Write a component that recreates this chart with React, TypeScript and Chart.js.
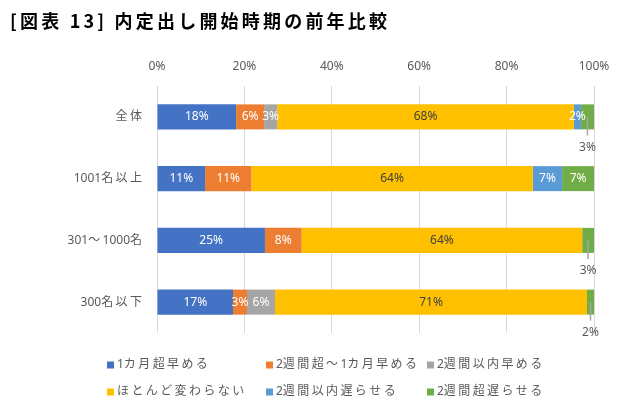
import React, { useEffect, useRef } from "react";
import { Chart, registerables } from "chart.js";

Chart.register(...registerables);

// ---------- data ----------
const title = "[図表 13] 内定出し開始時期の前年比較";
const categories = ["全体", "1001名以上", "301～1000名", "300名以下"];
const seriesNames = [
  "1カ月超早める",
  "2週間超～1カ月早める",
  "2週間以内早める",
  "ほとんど変わらない",
  "2週間以内遅らせる",
  "2週間超遅らせる",
];
const earlierOver1Month = [18.1, 11.0, 24.7, 17.4];
const earlier2WeeksTo1Month = [6.4, 10.6, 8.4, 3.2];
const earlierWithin2Weeks = [3.0, 0, 0, 6.4];
const almostUnchanged = [67.9, 64.4, 64.2, 71.4];
const laterWithin2Weeks = [1.6, 6.7, 0, 0];
const laterOver2Weeks = [3.0, 7.3, 2.7, 1.6];
const xTickValues = [0, 20, 40, 60, 80, 100];

// ---------- styles ----------
const seriesValues = [
  earlierOver1Month,
  earlier2WeeksTo1Month,
  earlierWithin2Weeks,
  almostUnchanged,
  laterWithin2Weeks,
  laterOver2Weeks,
];
const palette = ["#4472C4", "#ED7D31", "#A5A5A5", "#FFC000", "#5B9BD5", "#70AD47"];
const labelColors = ["#FFFFFF", "#FFFFFF", "#FFFFFF", "#404040", "#FFFFFF", "#FFFFFF"];
const FONT = "'Noto Sans', 'Noto Sans CJK JP', sans-serif";
const TEXT_GRAY = "#595959";
const CJK_EXTRA = 2.4;

function isWide(ch: string) {
  return ch.charCodeAt(0) > 255;
}
function spacedWidth(ctx: CanvasRenderingContext2D, text: string, extra: number) {
  const chars = Array.from(text);
  let w = 0;
  chars.forEach((ch, i) => {
    w += ctx.measureText(ch).width;
    if (isWide(ch) && i < chars.length - 1) w += extra;
  });
  return w;
}
function drawSpaced(
  ctx: CanvasRenderingContext2D,
  text: string,
  x: number,
  y: number,
  align: "left" | "right" | "center",
  extra: number
) {
  const w = spacedWidth(ctx, text, extra);
  let cx = align === "right" ? x - w : align === "center" ? x - w / 2 : x;
  ctx.textAlign = "left";
  for (const ch of Array.from(text)) {
    ctx.fillText(ch, cx, y);
    cx += ctx.measureText(ch).width + (isWide(ch) ? extra : 0);
  }
}

const overlayPlugin = {
  id: "overlay",
  afterDatasetsDraw(chart: any) {
    const ctx: CanvasRenderingContext2D = chart.ctx;
    const yScale = chart.scales.y;
    const area = chart.chartArea;
    ctx.save();

    // title
    ctx.font = `bold 18px 'Noto Sans CJK JP', sans-serif`;
    (ctx as any).letterSpacing = "3.2px";
    ctx.fillStyle = "#000000";
    ctx.textBaseline = "middle";
    ctx.textAlign = "left";
    ctx.fillText(title, 10, 21);
    (ctx as any).letterSpacing = "0px";

    // category labels
    ctx.font = `12px ${FONT}`;
    ctx.fillStyle = TEXT_GRAY;
    ctx.textBaseline = "middle";
    chart.data.labels.forEach((lab: string, i: number) => {
      const y = yScale.getPixelForValue(i);
      drawSpaced(ctx, lab, area.left - 15, y, "right", CJK_EXTRA);
    });

    // data labels
    const lastDs = chart.data.datasets.length - 1;
    chart.data.datasets.forEach((ds: any, di: number) => {
      const meta = chart.getDatasetMeta(di);
      meta.data.forEach((bar: any, i: number) => {
        const v = ds.data[i];
        if (!v) return;
        const txt = Math.round(v) + "%";
        const cx = (bar.x + bar.base) / 2;
        const h = bar.height;
        if (di === lastDs && v < 4) {
          const bottom = bar.y + h / 2;
          ctx.strokeStyle = "#A6A6A6";
          ctx.lineWidth = 1.5;
          ctx.beginPath();
          ctx.moveTo(cx, bar.y);
          ctx.lineTo(cx, bottom + 6);
          ctx.stroke();
          ctx.fillStyle = TEXT_GRAY;
          ctx.textAlign = "center";
          ctx.fillText(txt, cx, bottom + 18);
        } else {
          ctx.fillStyle = labelColors[di];
          ctx.textAlign = "center";
          ctx.fillText(txt, cx, bar.y);
        }
      });
    });

    // legend
    const colX = [107, 266, 427];
    const rowY = [365, 392];
    chart.data.datasets.forEach((ds: any, di: number) => {
      const col = di % 3;
      const row = Math.floor(di / 3);
      const x = colX[col];
      const y = rowY[row];
      ctx.fillStyle = ds.backgroundColor;
      ctx.fillRect(x, y - 3.5, 7, 7);
      ctx.fillStyle = TEXT_GRAY;
      ctx.textBaseline = "middle";
      drawSpaced(ctx, ds.label, x + 10, y, "left", CJK_EXTRA);
    });

    ctx.restore();
  },
};

export default function App() {
  const ref = useRef<HTMLCanvasElement | null>(null);
  useEffect(() => {
    if (!ref.current) return;
    const chart = new Chart(ref.current, {
      type: "bar",
      data: {
        labels: categories,
        datasets: seriesValues.map((vals, i) => ({
          label: seriesNames[i],
          data: vals,
          backgroundColor: palette[i],
          borderWidth: 0,
          barPercentage: 0.405,
          categoryPercentage: 1,
        })),
      },
      options: {
        indexAxis: "y",
        animation: false,
        responsive: false,
        maintainAspectRatio: false,
        layout: { padding: { top: 40, right: 38, bottom: 81, left: 0 } },
        plugins: {
          legend: { display: false },
          tooltip: { enabled: false },
          title: { display: false },
        },
        scales: {
          x: {
            type: "linear",
            position: "top",
            stacked: true,
            min: 0,
            max: 100,
            afterBuildTicks: (s: any) => {
              s.ticks = xTickValues.map((v) => ({ value: v }));
            },
            afterFit: (s: any) => {
              s.height = 46;
            },
            grid: { color: "#D9D9D9", lineWidth: 1, drawTicks: false },
            border: { display: false },
            ticks: {
              padding: 12,
              color: TEXT_GRAY,
              font: { size: 12, family: FONT },
              callback: (v: any) => v + "%",
            },
          },
          y: {
            type: "category",
            stacked: true,
            afterFit: (s: any) => {
              s.width = 157;
            },
            grid: { display: false, drawTicks: false },
            border: { display: false },
            ticks: { display: false },
          },
        },
      } as any,
      plugins: [overlayPlugin],
    });
    return () => chart.destroy();
  }, []);
  return (
    <div style={{ position: "absolute", left: 0, top: 0, width: 632, height: 414, background: "#fff" }}>
      <canvas ref={ref} width={632} height={414} style={{ width: 632, height: 414, display: "block" }} />
    </div>
  );
}
